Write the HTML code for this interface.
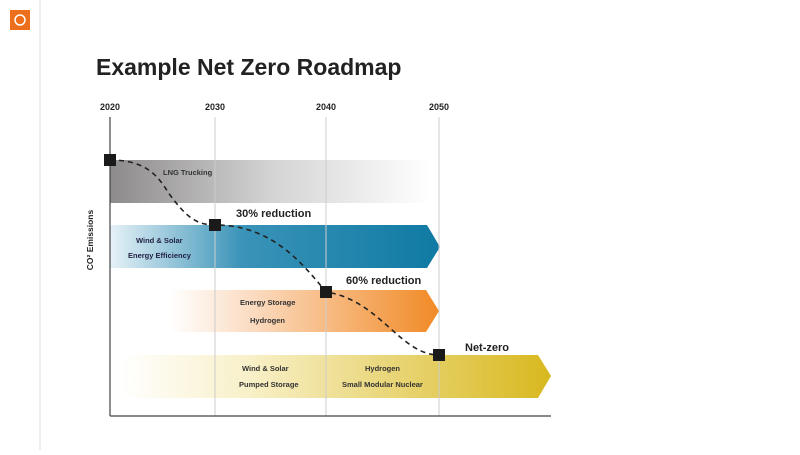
<!DOCTYPE html>
<html><head><meta charset="utf-8"><style>
body{margin:0;width:800px;height:450px;background:#fff;overflow:hidden;font-family:"Liberation Sans",sans-serif}
</style></head><body>
<svg width="800" height="450" viewBox="0 0 800 450" xmlns="http://www.w3.org/2000/svg" font-family="Liberation Sans, sans-serif">
<defs>
<linearGradient id="g1" x1="0" x2="1"><stop offset="0" stop-color="#8c8a8a"/><stop offset="0.5" stop-color="#d4d3d3"/><stop offset="1" stop-color="#fff"/></linearGradient>
<linearGradient id="g2" x1="0" x2="1"><stop offset="0" stop-color="#e6f2f7"/><stop offset="0.4" stop-color="#3a93b8"/><stop offset="1" stop-color="#0f7aa3"/></linearGradient>
<linearGradient id="g3" x1="0" x2="1"><stop offset="0" stop-color="#fff"/><stop offset="0.3" stop-color="#fbdcc2"/><stop offset="1" stop-color="#f18a26"/></linearGradient>
<linearGradient id="g4" x1="0" x2="1"><stop offset="0" stop-color="#fff"/><stop offset="0.3" stop-color="#f8f0c8"/><stop offset="1" stop-color="#d8b81e"/></linearGradient>
</defs>
<line x1="40" y1="0" x2="40" y2="450" stroke="#ddd" stroke-width="1"/>
<rect x="10" y="10" width="20" height="20" fill="#ee6f1b"/>
<circle cx="20" cy="20" r="5" fill="none" stroke="#fff" stroke-width="1.5"/>
<text x="96" y="75" font-size="23" font-weight="bold" fill="#222">Example Net Zero Roadmap</text>
<g font-size="9" font-weight="bold" fill="#222" text-anchor="middle">
<text x="110" y="110">2020</text><text x="215" y="110">2030</text><text x="326" y="110">2040</text><text x="439" y="110">2050</text>
</g>
<rect x="110" y="160" width="320" height="43" fill="url(#g1)"/>
<polygon points="110,225 427,225 440,247 427,268 110,268" fill="url(#g2)"/>
<polygon points="170,290 426,290 439,311 426,332 170,332" fill="url(#g3)"/>
<polygon points="120,355 538,355 551,376 538,398 120,398" fill="url(#g4)"/>
<g stroke="#ccc" stroke-width="1"><line x1="215" y1="117" x2="215" y2="416"/><line x1="326" y1="117" x2="326" y2="416"/><line x1="439" y1="117" x2="439" y2="416"/></g>
<line x1="110" y1="117" x2="110" y2="416" stroke="#444" stroke-width="1.2"/>
<line x1="110" y1="416" x2="551" y2="416" stroke="#444" stroke-width="1.2"/>
<path d="M110,160 C150,160 160,180 170,195 C185,215 195,225 215,225 C270,225 300,260 326,292 C380,300 400,355 439,355" fill="none" stroke="#222" stroke-width="1.6" stroke-dasharray="5,4"/>
<g fill="#1a1a1a"><rect x="104" y="154" width="12" height="12"/><rect x="209" y="219" width="12" height="12"/><rect x="320" y="286" width="12" height="12"/><rect x="433" y="349" width="12" height="12"/></g>
<g font-size="7.5" fill="#333" font-weight="bold">
<text x="163" y="175">LNG Trucking</text>
<text x="136" y="243" fill="#224">Wind &amp; Solar</text><text x="128" y="258" fill="#224">Energy Efficiency</text>
<text x="240" y="305">Energy Storage</text><text x="250" y="323">Hydrogen</text>
<text x="242" y="371">Wind &amp; Solar</text><text x="239" y="387">Pumped Storage</text>
<text x="365" y="371">Hydrogen</text><text x="342" y="387">Small Modular Nuclear</text>
</g>
<g font-size="11" font-weight="bold" fill="#222">
<text x="236" y="217">30% reduction</text><text x="346" y="284">60% reduction</text><text x="465" y="351">Net-zero</text>
</g>
<text transform="translate(93,240) rotate(-90)" font-size="8.5" font-weight="bold" fill="#222" text-anchor="middle">CO² Emissions</text>
</svg>
</body></html>
